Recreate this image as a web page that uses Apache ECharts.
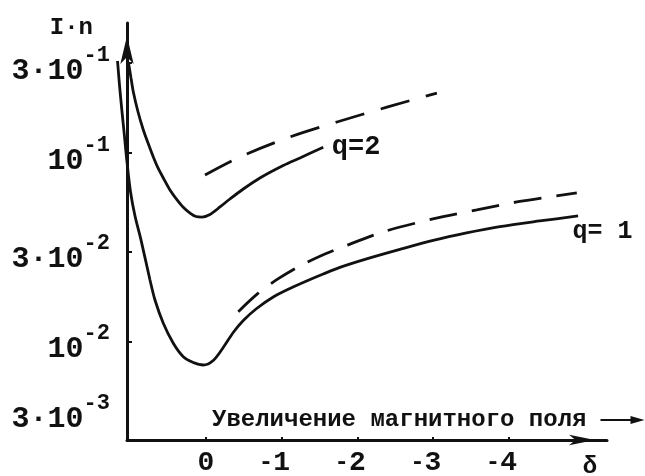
<!DOCTYPE html>
<html>
<head>
<meta charset="utf-8">
<script src="https://cdn.jsdelivr.net/npm/echarts@6/dist/echarts.min.js"></script>
<style>
  html, body { margin: 0; padding: 0; background: #fff; }
  #chart { width: 645px; height: 476px; }
</style>
</head>
<body>
<div id="chart"></div>
<script>
// δ ticks and I·n ticks
var deltaTicks = [0, -1, -2, -3, -4];
var yTicks = [0.3, 0.1, 0.03, 0.01, 0.003];
var yTickBase = ['3·10', '10', '3·10', '10', '3·10'];
var yTickExp = ['-1', '-1', '-2', '-2', '-3'];

// q = 2, solid
var q2SolidX = [1.026, 0.991, 0.960, 0.898, 0.828, 0.766, 0.696, 0.634, 0.564, 0.476, 0.387, 0.304, 0.211, 0.132, 0.053, -0.053, -0.185, -0.317, -0.493, -0.713, -1.021, -1.242, -1.550];
var q2SolidY = [0.304, 0.250, 0.2107, 0.165, 0.1324, 0.113, 0.0953, 0.0833, 0.0737, 0.0636, 0.0567, 0.0517, 0.0480, 0.0460, 0.0457, 0.0472, 0.0517, 0.0570, 0.0644, 0.0737, 0.0858, 0.0941, 0.1072];

// q = 2, dashed
var q2DashX = [0.013, -0.449, -1.070, -1.731, -2.391, -3.052];
var q2DashY = [0.0764, 0.0953, 0.120, 0.146, 0.175, 0.208];

// q = 1, solid
var q1SolidX = [1.169, 1.143, 1.112, 1.079, 1.044, 0.997, 0.938, 0.859, 0.740, 0.674, 0.564, 0.432, 0.300, 0.168, 0.036, -0.096, -0.228, -0.360, -0.493, -0.670, -0.889, -1.110, -1.330, -1.550, -1.770, -2.123, -2.563, -3.003, -3.444, -3.884, -4.412, -4.918];
var q1SolidY = [0.3076, 0.2294, 0.169, 0.1246, 0.0896, 0.0621, 0.0463, 0.0346, 0.0212, 0.0166, 0.01249, 0.00978, 0.0083, 0.00774, 0.0075, 0.00793, 0.00929, 0.01116, 0.01293, 0.01496, 0.01722, 0.01911, 0.02094, 0.02281, 0.0247, 0.0274, 0.03077, 0.03434, 0.03763, 0.04064, 0.04357, 0.04632];

// q = 1, dashed
var q1DashX = [-0.427, -0.691, -0.951, -1.264, -1.572, -1.770, -2.338, -2.999, -3.580, -4.108, -4.901];
var q1DashY = [0.01439, 0.01803, 0.02146, 0.02544, 0.02912, 0.03133, 0.0381, 0.04467, 0.04984, 0.05495, 0.06134];

function pairs(xs, ys) {
    return xs.map(function (x, i) { return [x, ys[i]]; });
}

function lastPoint(xs, ys) {
    return [xs[xs.length - 1], ys[ys.length - 1]];
}

var mono = 'Liberation Mono';
var ink = '#111';

function curveLabel(text, xs, ys, offset, size) {
    return {
        silent: true,
        symbol: 'circle',
        symbolSize: 1,
        itemStyle: { color: 'rgba(0,0,0,0)' },
        label: {
            show: true,
            position: 'right',
            distance: 8,
            offset: offset,
            formatter: text,
            fontFamily: mono,
            fontSize: size,
            fontWeight: 'bold',
            color: ink
        },
        data: [{ coord: lastPoint(xs, ys) }]
    };
}

var chart = echarts.init(document.getElementById('chart'));

// grid 0 holds the curves: the q=1 curve starts a little left of the I·n axis,
// so that grid reaches 10px past it and the y axis is pulled back in (offset -10).
// grid 1 only carries the visible δ axis, which starts at the I·n axis.
var option = {
    animation: false,
    backgroundColor: '#fff',
    grid: [
        { left: 117, right: 38, top: 23, bottom: 36, outerBoundsMode: 'none' },
        { left: 127, right: 38, top: 23, bottom: 36, outerBoundsMode: 'none' }
    ],
    xAxis: [
        {
            gridIndex: 0,
            type: 'value',
            inverse: true,
            min: -5.3,
            max: 1.176,
            show: false
        },
        {
            gridIndex: 1,
            type: 'value',
            inverse: true,
            min: -5.3,
            max: 1.044,
            name: 'δ',
            nameLocation: 'start',
            nameGap: -17,
            nameMoveOverlap: false,
            nameTextStyle: { fontFamily: mono, fontSize: 24, fontWeight: 'bold', color: ink, align: 'center', verticalAlign: 'top', padding: [15, 0, 0, 0] },
            axisLine: { onZero: false, lineStyle: { color: ink, width: 3 }, symbol: ['none', 'arrow'], symbolSize: [8, 26], symbolOffset: [0, -12] },
            axisTick: { inside: true, length: 3, lineStyle: { color: ink, width: 2 }, customValues: deltaTicks },
            axisLabel: {
                customValues: deltaTicks,
                margin: 9,
                color: ink,
                formatter: function (v) {
                    if (v === 0) return '{n|0}';
                    return '{d|-}{n|' + Math.abs(v) + '}{h|-}';
                },
                rich: {
                    n: { fontFamily: mono, fontSize: 28, fontWeight: 'bold', color: ink },
                    d: { fontFamily: mono, fontSize: 24, fontWeight: 'bold', color: ink },
                    h: { fontFamily: mono, fontSize: 24, fontWeight: 'bold', color: 'rgba(0,0,0,0)' }
                }
            },
            splitLine: { show: false }
        }
    ],
    yAxis: [
        {
            gridIndex: 0,
            type: 'log',
            logBase: 10,
            min: 0.003,
            max: 0.4894,
            offset: -10,
            name: 'I·n',
            nameLocation: 'end',
            nameGap: -5,
            nameMoveOverlap: false,
            nameTextStyle: { fontFamily: mono, fontSize: 24, fontWeight: 'bold', color: ink, align: 'right', verticalAlign: 'middle', padding: [0, 34, 0, 0] },
            axisLine: { onZero: false, lineStyle: { color: ink, width: 3 }, symbol: ['none', 'arrow'], symbolSize: [10, 28], symbolOffset: [0, -13] },
            axisTick: { inside: true, length: 5, lineStyle: { color: ink, width: 2 }, customValues: yTicks },
            axisLabel: {
                customValues: yTicks,
                margin: 17,
                color: ink,
                formatter: function (v) {
                    var idx = 0, best = 1e9;
                    yTicks.forEach(function (t, i) {
                        var d = Math.abs(Math.log10(t / v));
                        if (d < best) { best = d; idx = i; }
                    });
                    var s = '{t| }\n{b|' + yTickBase[idx] + '}{s|' + yTickExp[idx] + '}';
                    if (idx === yTicks.length - 1) s += '\n{g| }';
                    return s;
                },
                rich: {
                    t: { fontSize: 10, lineHeight: 16 },
                    b: { fontFamily: mono, fontSize: 30, fontWeight: 'bold', color: ink, lineHeight: 54 },
                    s: { fontFamily: mono, fontSize: 22, fontWeight: 'bold', color: ink, lineHeight: 22, verticalAlign: 'top' },
                    g: { fontSize: 10, lineHeight: 58 }
                }
            },
            splitLine: { show: false }
        },
        {
            gridIndex: 1,
            type: 'value',
            min: 0,
            max: 1,
            show: false
        }
    ],
    graphic: [
        {
            type: 'text',
            left: 212,
            top: 408,
            style: { text: 'Увеличение магнитного поля', fontFamily: mono, fontSize: 24, fontWeight: 'bold', fill: ink }
        },
        {
            type: 'group',
            left: 598,
            top: 416,
            children: [
                { type: 'line', shape: { x1: 0, y1: 5, x2: 34, y2: 5 }, style: { stroke: ink, lineWidth: 2 } },
                { type: 'polygon', shape: { points: [[30, 1], [44, 5], [30, 9]] }, style: { fill: ink } }
            ]
        }
    ],
    series: [
        {
            name: 'q=2',
            type: 'line',
            data: pairs(q2SolidX, q2SolidY),
            smooth: 0.3,
            symbol: 'none',
            lineStyle: { color: ink, width: 2.8 },
            markPoint: curveLabel('q=2', q2SolidX, q2SolidY, [0, 0], 27)
        },
        {
            name: 'q=2 dashed',
            type: 'line',
            data: pairs(q2DashX, q2DashY),
            smooth: 0.3,
            symbol: 'none',
            lineStyle: { color: ink, width: 2.8, type: [30, 17] }
        },
        {
            name: 'q=1',
            type: 'line',
            data: pairs(q1SolidX, q1SolidY),
            smooth: 0.3,
            symbol: 'none',
            lineStyle: { color: ink, width: 2.8 },
            markPoint: curveLabel('q= 1', q1SolidX, q1SolidY, [-14, 16], 25)
        },
        {
            name: 'q=1 dashed',
            type: 'line',
            data: pairs(q1DashX, q1DashY),
            smooth: 0.3,
            symbol: 'none',
            lineStyle: { color: ink, width: 2.8, type: [28, 15] }
        }
    ]
};

chart.setOption(option);
</script>
</body>
</html>
